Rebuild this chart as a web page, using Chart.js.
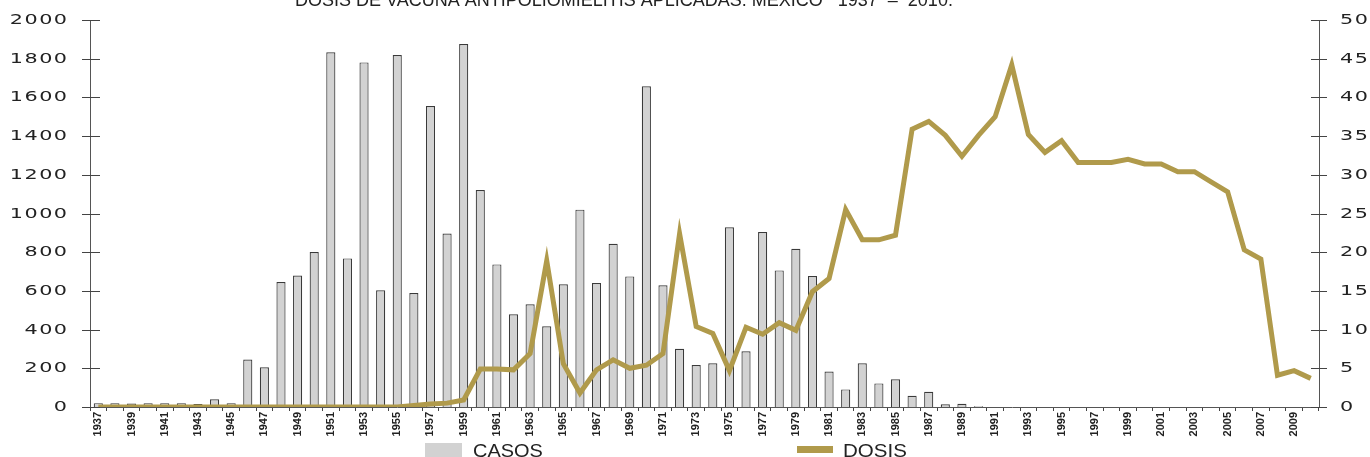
<!DOCTYPE html>
<html>
<head>
<meta charset="utf-8">
<script src="https://cdn.jsdelivr.net/npm/chart.js@4"></script>
<style>
  body { margin: 0; background: #fff; }
  #wrap { width: 1370px; height: 457px; position: relative; }
</style>
</head>
<body>
<div id="wrap"><canvas id="grafica"></canvas></div>
<script>
// Datos
const titulo = "DOSIS DE VACUNA ANTIPOLIOMIELITIS APLICADAS. MÉXICO   1937  –  2010.";

const anios = [
  "1937","1938","1939","1940","1941","1942","1943","1944","1945","1946",
  "1947","1948","1949","1950","1951","1952","1953","1954","1955","1956",
  "1957","1958","1959","1960","1961","1962","1963","1964","1965","1966",
  "1967","1968","1969","1970","1971","1972","1973","1974","1975","1976",
  "1977","1978","1979","1980","1981","1982","1983","1984","1985","1986",
  "1987","1988","1989","1990","1991","1992","1993","1994","1995","1996",
  "1997","1998","1999","2000","2001","2002","2003","2004","2005","2006",
  "2007","2008","2009","2010"
];

// casos de poliomielitis (eje izquierdo)
const casos = [
  20, 20, 18, 20, 20, 20, 15, 40, 20, 245,
  205, 646, 679, 801, 1833, 768, 1781, 603, 1819, 589,
  1555, 897, 1876, 1121, 737, 479, 531, 417, 634, 1020,
  641, 844, 675, 1657, 629, 301, 217, 226, 929, 288,
  904, 706, 818, 677, 183, 91, 226, 122, 143, 58,
  79, 14, 17, 4, 0, 0, 0, 0, 0, 0,
  0, 0, 0, 0, 0, 0, 0, 0, 0, 0,
  0, 0, 0, 0
];

// dosis aplicadas (eje derecho)
const dosis = [
  0, 0, 0, 0, 0, 0, 0, 0, 0, 0,
  0, 0, 0, 0, 0, 0, 0, 0, 0, 0.2,
  0.4, 0.5, 0.9, 4.9, 4.9, 4.8, 6.9, 18.9, 5.6, 1.8,
  4.8, 6.1, 5.0, 5.4, 6.9, 22.4, 10.4, 9.5, 4.7, 10.3,
  9.4, 10.9, 9.9, 14.9, 16.6, 25.5, 21.6, 21.6, 22.2, 35.9,
  36.9, 35.1, 32.4, 35.1, 37.5, 44.2, 35.2, 32.9, 34.4, 31.6,
  31.6, 31.6, 32.0, 31.4, 31.4, 30.4, 30.4, 29.1, 27.8, 20.3,
  19.1, 4.1, 4.7, 3.7
];

const colorBarra = "#d2d2d2";
const colorBorde = "#3a3a3a";
const colorLinea = "#b09a4b";
const colorTexto = "#222222";

// Dibuja titulo, etiquetas de los ejes Y y la leyenda
const extras = {
  id: "extras",
  afterDraw(chart) {
    const ctx = chart.ctx;
    const yL = chart.scales.y;
    const yR = chart.scales.y1;

    ctx.save();
    ctx.fillStyle = colorTexto;

    // titulo (cortado arriba como en el original)
    ctx.font = '18px "Liberation Sans Narrow", "Liberation Sans", Arial, sans-serif';
    ctx.textAlign = "left";
    ctx.textBaseline = "alphabetic";
    ctx.fillText(titulo, 295, 5.5, 783);

    // marcas y etiquetas del eje izquierdo
    ctx.strokeStyle = "#444";
    ctx.lineWidth = 1;
    ctx.font = '14px "DejaVu Sans", sans-serif';
    ctx.textBaseline = "middle";
    ctx.letterSpacing = "1px";
    const sx = 1.48;
    yL.ticks.forEach(t => {
      const y = Math.round(yL.getPixelForValue(t.value)) + 0.5;
      ctx.beginPath();
      ctx.moveTo(yL.right - 8, y);
      ctx.lineTo(yL.right + 10, y);
      ctx.stroke();
      const txt = String(t.value);
      const w = ctx.measureText(txt).width - 1;
      ctx.save();
      ctx.translate(67 - w * sx, y);
      ctx.scale(sx, 1);
      ctx.fillText(txt, 0, 0);
      ctx.restore();
    });

    // marcas y etiquetas del eje derecho
    yR.ticks.forEach(t => {
      const y = Math.round(yR.getPixelForValue(t.value)) + 0.5;
      ctx.beginPath();
      ctx.moveTo(yR.left - 8, y);
      ctx.lineTo(yR.left + 8, y);
      ctx.stroke();
      ctx.save();
      ctx.translate(1340, y);
      ctx.scale(sx, 1);
      ctx.fillText(String(t.value), 0, 0);
      ctx.restore();
    });
    ctx.letterSpacing = "0px";

    // leyenda
    const ds = chart.data.datasets;
    ctx.textBaseline = "alphabetic";
    ctx.font = '19px "Liberation Sans", Arial, sans-serif';
    ctx.fillStyle = colorBarra;
    ctx.fillRect(425, 443, 37, 14);
    ctx.fillStyle = colorTexto;
    ctx.save();
    ctx.translate(473, 457);
    ctx.scale(1.05, 1);
    ctx.fillText(ds[1].label, 0, 0);
    ctx.restore();

    ctx.fillStyle = colorLinea;
    ctx.fillRect(797, 446, 36, 7);
    ctx.fillStyle = colorTexto;
    ctx.save();
    ctx.translate(843, 457);
    ctx.scale(1.08, 1);
    ctx.fillText(ds[0].label, 0, 0);
    ctx.restore();

    ctx.restore();
  }
};

new Chart(document.getElementById("grafica"), {
  type: "bar",
  data: {
    labels: anios,
    datasets: [
      {
        type: "line",
        label: "DOSIS",
        data: dosis,
        yAxisID: "y1",
        borderColor: colorLinea,
        backgroundColor: colorLinea,
        borderWidth: 5,
        pointRadius: 0,
        tension: 0,
        order: 0
      },
      {
        type: "bar",
        label: "CASOS",
        data: casos,
        yAxisID: "y",
        backgroundColor: colorBarra,
        borderColor: colorBorde,
        borderWidth: 1.2,
        barPercentage: 0.55,
        categoryPercentage: 1,
        order: 1
      }
    ]
  },
  options: {
    responsive: true,
    maintainAspectRatio: false,
    animation: false,
    layout: { padding: { top: 20, left: 0, right: 0, bottom: 0 } },
    plugins: {
      legend: { display: false },
      title: { display: false },
      tooltip: { enabled: false }
    },
    scales: {
      x: {
        offset: true,
        grid: {
          display: true,
          offset: true,
          drawOnChartArea: false,
          drawTicks: true,
          tickLength: 4,
          color: "#444"
        },
        border: { display: true, color: "#555" },
        ticks: {
          autoSkip: false,
          minRotation: 90,
          maxRotation: 90,
          padding: 1,
          color: colorTexto,
          font: { family: '"Liberation Sans Narrow", "Liberation Sans", Arial', size: 11, weight: "bold" },
          callback: (v, i) => (i % 2 === 0 ? anios[i] : "")
        },
        afterFit(scale) { scale.height = 50; }
      },
      y: {
        position: "left",
        min: 0,
        max: 2000,
        ticks: { stepSize: 200, display: false },
        grid: { display: false },
        border: { display: true, color: "#555" },
        afterFit(scale) { scale.width = 90; }
      },
      y1: {
        position: "right",
        min: 0,
        max: 50,
        ticks: { stepSize: 5, display: false },
        grid: { display: false },
        border: { display: true, color: "#555" },
        afterFit(scale) { scale.width = 51; }
      }
    }
  },
  plugins: [extras]
});
</script>
</body>
</html>
